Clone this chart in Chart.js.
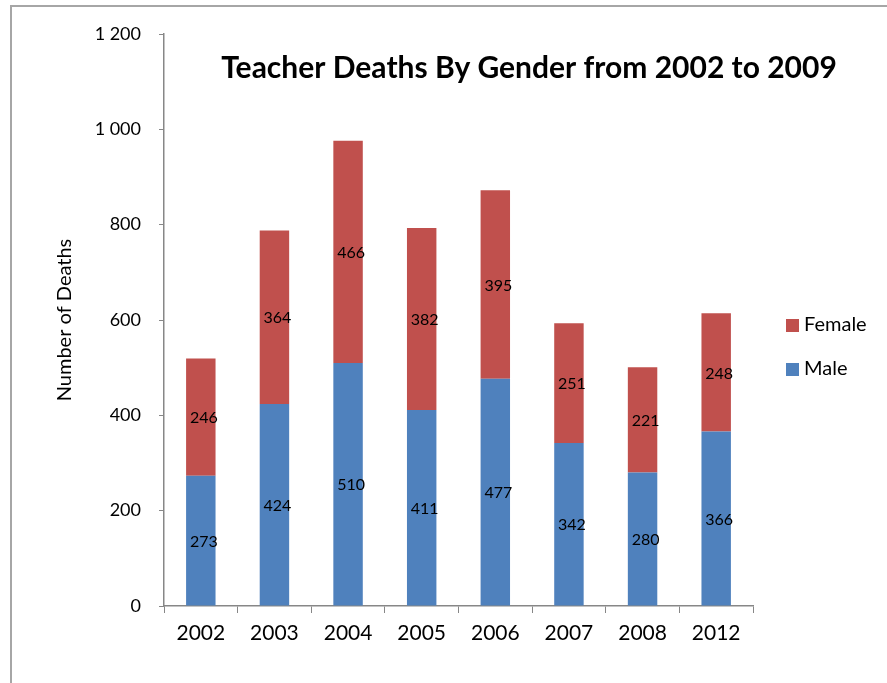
<!DOCTYPE html>
<html lang="en">
<head>
    <meta charset="UTF-8">
    <title>Teacher Deaths By Gender</title>
    <script src="https://cdn.jsdelivr.net/npm/chart.js"></script>
    <style>
        body {
            margin: 0;
            padding: 0;
            background: #fff;
            overflow: hidden;
            font-family: Lato, sans-serif;
        }

        /* grey frame, only left and top edges are visible in the window */
        .frame {
            position: absolute;
            left: 10px;
            top: 5px;
            width: 1000px;
            height: 1000px;
            border: 2px solid #a6a6a6;
        }

        .chart-box {
            position: absolute;
            left: 0;
            top: 0;
            width: 887px;
            height: 683px;
        }
    </style>
</head>
<body>
    <div class="frame"></div>
    <div class="chart-box">
        <canvas id="deathsChart"></canvas>
    </div>

    <script>
        // Data
        const years = ['2002', '2003', '2004', '2005', '2006', '2007', '2008', '2012'];
        const maleDeaths = [273, 424, 510, 411, 477, 342, 280, 366];
        const femaleDeaths = [246, 364, 466, 382, 395, 251, 221, 248];
        const yTickValues = [0, 200, 400, 600, 800, 1000, 1200];
        const chartTitle = 'Teacher Deaths By Gender from 2002 to 2009';

        const MALE_COLOR = '#4f81bd';
        const FEMALE_COLOR = '#c0504d';
        const AXIS_COLOR = '#878787';
        const FONT = 'Lato, sans-serif';

        // thousands separated by a space, e.g. "1 200"
        function spaced(v) {
            return String(v).replace(/\B(?=(\d{3})+(?!\d))/g, ' ');
        }

        // Title drawn inside the plot area, like the original
        const titlePlugin = {
            id: 'insideTitle',
            afterDraw(chart) {
                const ctx = chart.ctx;
                ctx.save();
                ctx.font = 'bold 30px ' + FONT;
                ctx.fillStyle = '#000';
                ctx.textAlign = 'center';
                ctx.textBaseline = 'middle';
                ctx.fillText(chartTitle, 529, 68);
                ctx.restore();
            }
        };

        // Value labels in the middle of each segment
        const valueLabels = {
            id: 'valueLabels',
            afterDatasetsDraw(chart) {
                const ctx = chart.ctx;
                ctx.save();
                ctx.font = '16px ' + FONT;
                ctx.fillStyle = '#000';
                ctx.textAlign = 'center';
                ctx.textBaseline = 'middle';
                chart.data.datasets.forEach((ds, i) => {
                    chart.getDatasetMeta(i).data.forEach((bar, j) => {
                        const p = bar.getCenterPoint();
                        ctx.fillText(ds.data[j], p.x + 3, p.y + 1);
                    });
                });
                ctx.restore();
            }
        };

        // Legend at the right, Female listed first
        const sideLegend = {
            id: 'sideLegend',
            afterDraw(chart) {
                const ctx = chart.ctx;
                const items = chart.data.datasets.slice().reverse();
                ctx.save();
                ctx.font = '20px ' + FONT;
                ctx.textBaseline = 'middle';
                ctx.textAlign = 'left';
                items.forEach((ds, i) => {
                    const cy = 325 + i * 44;
                    ctx.fillStyle = ds.backgroundColor;
                    ctx.fillRect(786, cy - 6, 13, 13);
                    ctx.fillStyle = '#000';
                    ctx.fillText(ds.label, 804, cy);
                });
                ctx.restore();
            }
        };

        const ctx = document.getElementById('deathsChart').getContext('2d');
        const deathsChart = new Chart(ctx, {
            type: 'bar',
            data: {
                labels: years,
                datasets: [
                    {
                        label: 'Male',
                        data: maleDeaths,
                        backgroundColor: MALE_COLOR,
                        barPercentage: 0.4,
                        categoryPercentage: 1.0
                    },
                    {
                        label: 'Female',
                        data: femaleDeaths,
                        backgroundColor: FEMALE_COLOR,
                        barPercentage: 0.4,
                        categoryPercentage: 1.0
                    }
                ]
            },
            options: {
                responsive: true,
                maintainAspectRatio: false,
                animation: false,
                layout: {
                    padding: { left: 40, top: 34, right: 134, bottom: 0 }
                },
                plugins: {
                    legend: { display: false },
                    title: { display: false },
                    tooltip: { enabled: false }
                },
                scales: {
                    x: {
                        stacked: true,
                        grid: {
                            offset: true,
                            drawOnChartArea: false,
                            tickLength: 7,
                            color: AXIS_COLOR
                        },
                        border: { color: AXIS_COLOR, width: 1.5 },
                        ticks: {
                            color: '#000',
                            font: { family: FONT, size: 21 },
                            padding: 8
                        },
                        afterFit(scale) {
                            scale.height = 77;
                        }
                    },
                    y: {
                        stacked: true,
                        min: 0,
                        max: 1200,
                        grid: {
                            drawOnChartArea: false,
                            tickLength: 5,
                            color: AXIS_COLOR
                        },
                        border: { color: AXIS_COLOR, width: 1.5 },
                        ticks: {
                            color: '#000',
                            font: { family: FONT, size: 18 },
                            padding: 18,
                            callback: v => spaced(v)
                        },
                        afterBuildTicks(scale) {
                            scale.ticks = yTickValues.map(v => ({ value: v }));
                        },
                        afterFit(scale) {
                            scale.width = 124;
                        },
                        title: {
                            display: true,
                            text: 'Number of Deaths',
                            color: '#000',
                            font: { family: FONT, size: 20 },
                            padding: { top: 13, bottom: 0 }
                        }
                    }
                }
            },
            plugins: [titlePlugin, valueLabels, sideLegend]
        });
    </script>
</body>
</html>
